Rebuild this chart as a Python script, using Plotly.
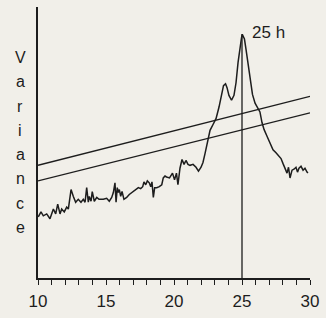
import plotly.graph_objects as go

# Periodogram: period (h) vs variance (arbitrary units)
period = [10.02, 10.22, 10.39, 10.64, 10.88, 11.13, 11.30, 11.45, 11.62, 11.74,
          11.93, 12.11, 12.23, 12.43, 12.60, 12.77, 12.96, 13.16, 13.33, 13.46,
          13.58, 13.70, 13.77, 13.90, 13.99, 14.14, 14.32, 14.49, 14.80, 15.05,
          15.24, 15.42, 15.54, 15.66, 15.74, 15.83, 15.90, 15.98, 16.08, 16.18,
          16.32, 16.52, 16.71, 16.89, 17.01, 17.21, 17.38, 17.55, 17.70, 17.79,
          17.92, 18.04, 18.18, 18.29, 18.38, 18.48, 18.58, 18.73, 18.92, 19.10,
          19.21, 19.34, 19.45, 19.67, 19.89, 20.04, 20.18, 20.29, 20.44, 20.59,
          20.74, 20.88, 21.03, 21.18, 21.40, 21.62, 21.80, 21.99, 22.13, 22.28,
          22.40, 22.50, 22.65, 22.87, 23.09, 23.31, 23.49, 23.64, 23.79, 23.90,
          24.04, 24.23, 24.41, 24.56, 24.71, 24.85, 24.96, 25.02, 25.18, 25.29,
          25.44, 25.59, 25.77, 25.96, 26.18, 26.32, 26.47, 26.62, 26.84, 27.06,
          27.28, 27.50, 27.72, 27.87, 28.01, 28.16, 28.31, 28.42, 28.53, 28.68,
          28.82, 28.97, 29.08, 29.19, 29.34, 29.49, 29.63, 29.78, 29.85]
variance = [63, 68, 64, 66, 61, 71, 66, 76, 66, 71,
            68, 73, 71, 91, 84, 78, 81, 78, 81, 78,
            93, 78, 84, 79, 89, 79, 83, 81, 81, 82,
            79, 83, 88, 98, 78, 93, 88, 91, 84, 89,
            81, 83, 86, 88, 89, 91, 93, 92, 94, 99,
            96, 100, 98, 94, 99, 83, 93, 93, 94, 96,
            103, 105, 104, 103, 108, 101, 108, 96, 113, 122,
            117, 121, 117, 116, 117, 114, 110, 114, 119, 128,
            137, 144, 152, 158, 164, 176, 189, 198, 200, 196,
            188, 183, 188, 201, 222, 239, 247, 251, 246, 236,
            220, 204, 189, 180, 175, 171, 160, 153, 146, 138,
            132, 129, 126, 123, 118, 112, 108, 114, 103, 111,
            112, 114, 109, 113, 115, 111, 113, 109, 108]

# Significance lines (start / end)
sig_period = [10, 30]
sig_upper = [116, 187]
sig_lower = [100, 170]

peak_period = 25
peak_variance = 251
peak_label = "25 h"

tick_vals = list(range(10, 31))
tick_text = [str(v) if v % 5 == 0 else "" for v in tick_vals]
y_label = "Variance"

INK = "#1d1d1d"
BG = "#f1efe9"
FONT = "Liberation Sans, Arial, sans-serif"

fig = go.Figure()
fig.add_trace(go.Scatter(x=sig_period, y=sig_upper, mode="lines",
                         line=dict(color=INK, width=1.4), hoverinfo="skip"))
fig.add_trace(go.Scatter(x=sig_period, y=sig_lower, mode="lines",
                         line=dict(color=INK, width=1.4), hoverinfo="skip"))
fig.add_trace(go.Scatter(x=[peak_period, peak_period], y=[0, peak_variance], mode="lines",
                         line=dict(color=INK, width=1.3), hoverinfo="skip"))
fig.add_trace(go.Scatter(x=period, y=variance, mode="lines",
                         line=dict(color=INK, width=1.5)))

fig.add_annotation(x=peak_period, y=peak_variance, xref="x", yref="y",
                   text=peak_label, showarrow=False, xanchor="left", yanchor="middle",
                   xshift=8, yshift=2, font=dict(family=FONT, size=17, color=INK))

letter_y = [59, 84, 109, 134, 159, 184, 209, 234]  # pixel rows of letters
for ch, py in zip(y_label, letter_y):
    fig.add_annotation(x=-18 / 272, y=(286 - py) / 279, xref="paper", yref="paper",
                       text=ch, showarrow=False, xanchor="center", yanchor="middle",
                       font=dict(family=FONT, size=16, color=INK))

fig.update_layout(
    width=326, height=318,
    margin=dict(l=38, r=16, t=7, b=32),
    paper_bgcolor=BG, plot_bgcolor=BG,
    showlegend=False,
    font=dict(family=FONT, color=INK),
)
fig.update_xaxes(range=[10, 30], showgrid=False, zeroline=False,
                 showline=True, linecolor=INK, linewidth=1.5,
                 tickvals=tick_vals, ticktext=tick_text,
                 ticks="outside", ticklen=5, tickwidth=1.2, tickcolor=INK,
                 ticklabelstandoff=2,
                 tickfont=dict(family=FONT, size=17, color=INK))
fig.update_yaxes(range=[0, 279], showgrid=False, zeroline=False,
                 showline=True, linecolor=INK, linewidth=1.5,
                 showticklabels=False, ticks="")

fig.write_html("out.html",
               config={"displayModeBar": False},
               post_script="document.body.style.margin='0px';"
                           "document.body.style.background='" + BG + "';")
